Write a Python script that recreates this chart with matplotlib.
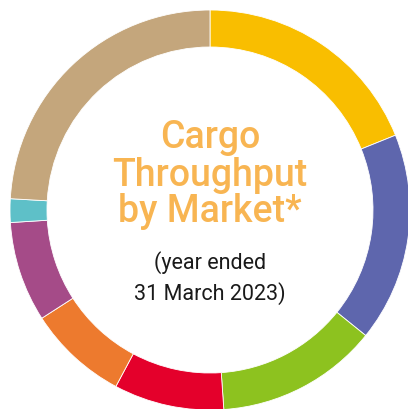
import matplotlib.pyplot as plt

markets = ["Yellow", "Blue", "Green", "Red", "Orange", "Magenta", "Cyan", "Tan"]
shares = [18.9, 16.9, 13.1, 8.9, 8.1, 8.1, 1.9, 24.1]
colors = ["#F9BE00", "#5E66AD", "#8DC21F", "#E4002B", "#ED7A2E",
          "#A54B88", "#5EC0C8", "#C4A67C"]

title_lines = ["Cargo", "Throughput", "by Market*"]
sub_lines = ["(year ended", "31 March 2023)"]

fig = plt.figure(figsize=(4.08, 4.10), dpi=100)
ax = fig.add_axes([0, 0, 1, 1])

ax.pie(shares, colors=colors, radius=200, startangle=90, counterclock=False,
       wedgeprops=dict(width=37, edgecolor="white", linewidth=0.6))

# centre of ring sits at pixel (210, 211), right and bottom are clipped
ax.set_xlim(-210, 198)
ax.set_ylim(-199, 211)
ax.set_aspect("equal")
ax.axis("off")

title_base = [148, 186, 222]
for line, yb in zip(title_lines, title_base):
    ax.text(0, 211 - yb, line, ha="center", va="baseline",
            fontsize=27, color="#F8B552", family="Roboto", fontweight="medium")

sub_base = [269, 300]
for line, yb in zip(sub_lines, sub_base):
    ax.text(0, 211 - yb, line, ha="center", va="baseline",
            fontsize=15.5, color="#1a1a1a", family="Roboto")

fig.savefig("out.png", dpi=100)
